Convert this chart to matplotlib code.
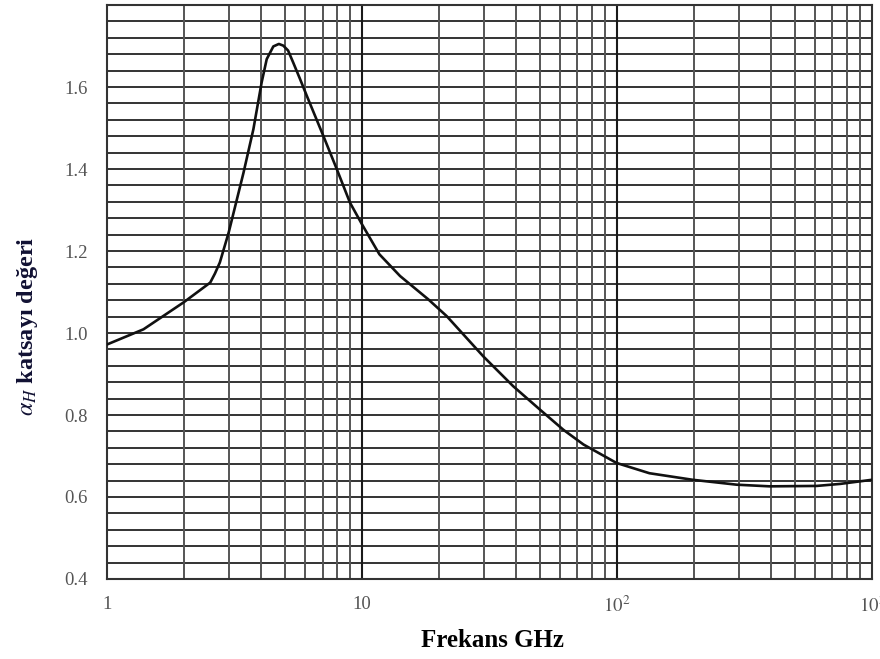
import numpy as np
import matplotlib
matplotlib.use("Agg")
import matplotlib.pyplot as plt
from matplotlib.ticker import FixedLocator, FixedFormatter, NullFormatter

plt.rcParams['font.family'] = ['Liberation Serif', 'DejaVu Serif']
plt.rcParams['mathtext.fontset'] = 'stix'

# alpha_H coefficient vs frequency (GHz)
freq = [1.0, 1.39, 2.0, 2.54, 2.65, 2.77, 3.0, 3.43, 3.75, 4.04, 4.23, 4.49,
        4.72, 4.91, 5.13, 5.37, 5.71, 6.07, 7.05, 7.96, 8.97, 10.0, 11.7,
        14.1, 18.2, 21.5, 29.9, 39.2, 49.9, 61.6, 73.9, 99.6, 134, 198, 295,
        397, 607, 752, 1000]
alpha = [0.972, 1.009, 1.075, 1.123, 1.145, 1.172, 1.245, 1.391, 1.497,
         1.611, 1.668, 1.699, 1.705, 1.701, 1.689, 1.660, 1.62, 1.579, 1.481,
         1.40, 1.318, 1.265, 1.192, 1.139, 1.082, 1.041, 0.943, 0.870, 0.813,
         0.764, 0.728, 0.683, 0.658, 0.642, 0.630, 0.626, 0.627, 0.632, 0.642]

xmajor = [1, 10, 100, 1000]
xlabels = ['1', '10', '$10^2$', '$10^3$']
yticks = [0.4, 0.6, 0.8, 1.0, 1.2, 1.4, 1.6]

fig = plt.figure(figsize=(8.8, 6.59), dpi=100)
ax = fig.add_axes([0.1216, 0.1214, 0.8693, 0.871])

ax.set_xscale('log')
ax.set_xlim(1, 1000)
ax.set_ylim(0.4, 1.8)

# grid: horizontal every 0.04, verticals at 2..9 per decade
for y in np.arange(0.44, 1.79, 0.04):
    ax.axhline(y, color='#333333', lw=1.4, zorder=1)
for d in [1, 10, 100]:
    for k in range(2, 10):
        ax.axvline(d * k, color='#555555', lw=1.4, zorder=1)
for d in [10, 100]:
    ax.axvline(d, color='#1a1a1a', lw=1.5, zorder=1)

ax.plot(freq, alpha, color='#111111', lw=1.9, zorder=3,
        solid_joinstyle='round', solid_capstyle='round')

ax.xaxis.set_major_locator(FixedLocator(xmajor))
ax.xaxis.set_major_formatter(FixedFormatter(xlabels))
ax.xaxis.set_minor_formatter(NullFormatter())
ax.set_yticks(yticks)
ax.set_yticklabels(['%.1f' % v for v in yticks])
ax.tick_params(axis='both', which='both', length=0, labelsize=13.5,
               labelcolor='#555555')
ax.tick_params(axis='y', pad=14)
ax.tick_params(axis='x', pad=12)

for s in ax.spines.values():
    s.set_color('#333333')
    s.set_linewidth(1.5)

ax.set_xlabel('Frekans GHz', fontsize=18, fontweight='bold')
ax.xaxis.set_label_coords(0.504, -0.087)
ax.set_ylabel(r'$\alpha_H$ katsayı değeri', fontsize=17.5, fontweight='bold',
              color='#111133')
ax.yaxis.set_label_coords(-0.088, 0.44)

fig.savefig('out.png', dpi=100)
